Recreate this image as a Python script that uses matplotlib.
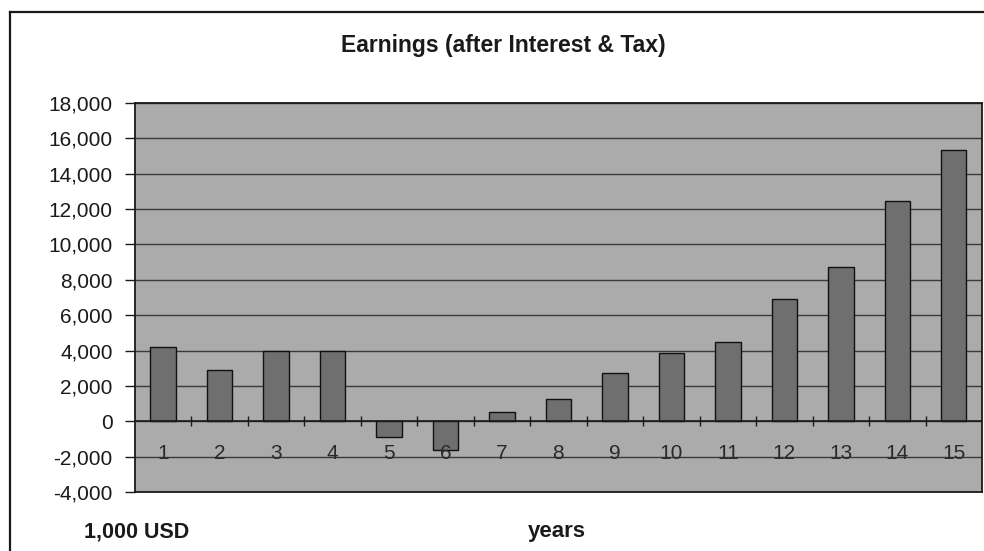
"""Earnings (after Interest & Tax) bar chart, old spreadsheet look."""

import matplotlib.pyplot as plt
from matplotlib.lines import Line2D
from matplotlib.ticker import FuncFormatter

plt.rcParams['font.family'] = ['Liberation Sans', 'DejaVu Sans']

# data, 1,000 USD per year
years = list(range(1, 16))
earnings = [4200, 2900, 4000, 4000, -900, -1600, 500, 1250,
            2750, 3850, 4500, 6900, 8700, 12450, 15350]
y_ticks = list(range(-4000, 18001, 2000))

title = 'Earnings (after Interest & Tax)'
unit_label = '1,000 USD'
x_label = 'years'

PLOT_BG = '#ababab'
BAR_COLOR = '#6f6f6f'
GRID_COLOR = '#3a3a3a'
INK = '#1a1a1a'

fig = plt.figure(figsize=(9.84, 5.51), dpi=100)
ax = fig.add_axes([0.137, 0.107, 0.861, 0.706])

ax.set_facecolor(PLOT_BG)
ax.bar(years, earnings, width=0.45, color=BAR_COLOR,
       edgecolor='#111111', linewidth=1.0, zorder=3)

ax.set_xlim(0.5, 15.5)
ax.set_ylim(y_ticks[0], y_ticks[-1])
ax.set_yticks(y_ticks)
ax.yaxis.set_major_formatter(FuncFormatter(lambda v, _: f'{int(v):,}'))
ax.tick_params(axis='y', labelsize=15, length=7, width=1,
               color=INK, pad=9, labelcolor=INK)
ax.grid(axis='y', color=GRID_COLOR, linewidth=1.0, zorder=1)
ax.set_xticks([])
for spine in ax.spines.values():
    spine.set_color(INK)
    spine.set_linewidth(1.3)

# category axis sits on the zero line, labels drawn just below it
zero_pos = -y_ticks[0] / (y_ticks[-1] - y_ticks[0])
cat_ax = ax.secondary_xaxis(zero_pos)
cat_ax.set_zorder(5)
cat_ax.set_xticks([y + 0.5 for y in years[:-1]])
cat_ax.set_xticklabels([])
cat_ax.set_xticks(years, minor=True)
cat_ax.set_xticklabels([str(y) for y in years], minor=True)
cat_ax.tick_params(axis='x', which='major', direction='inout',
                   length=7, width=1, color=INK)
cat_ax.tick_params(axis='x', which='minor', length=0, labelsize=15,
                   pad=16, labelcolor='#2a2a2a')
cat_ax.spines['bottom'].set_color(INK)
cat_ax.spines['bottom'].set_linewidth(1.2)

fig.text(0.511, 0.918, title, ha='center', va='center',
         fontsize=16.5, fontweight='bold', color=INK)
fig.text(0.139, 0.035, unit_label, ha='center', va='center',
         fontsize=15.5, fontweight='bold', color=INK)
fig.text(0.566, 0.035, x_label, ha='center', va='center',
         fontsize=16, fontweight='bold', color=INK)

# outer chart frame (left and top edges visible in the scan)
fig.add_artist(Line2D([0.0105, 0.0105], [0.0, 0.978], color=INK,
                      linewidth=1.6, transform=fig.transFigure))
fig.add_artist(Line2D([0.0105, 1.0], [0.978, 0.978], color=INK,
                      linewidth=1.6, transform=fig.transFigure))

fig.savefig('out.png', dpi=100)
